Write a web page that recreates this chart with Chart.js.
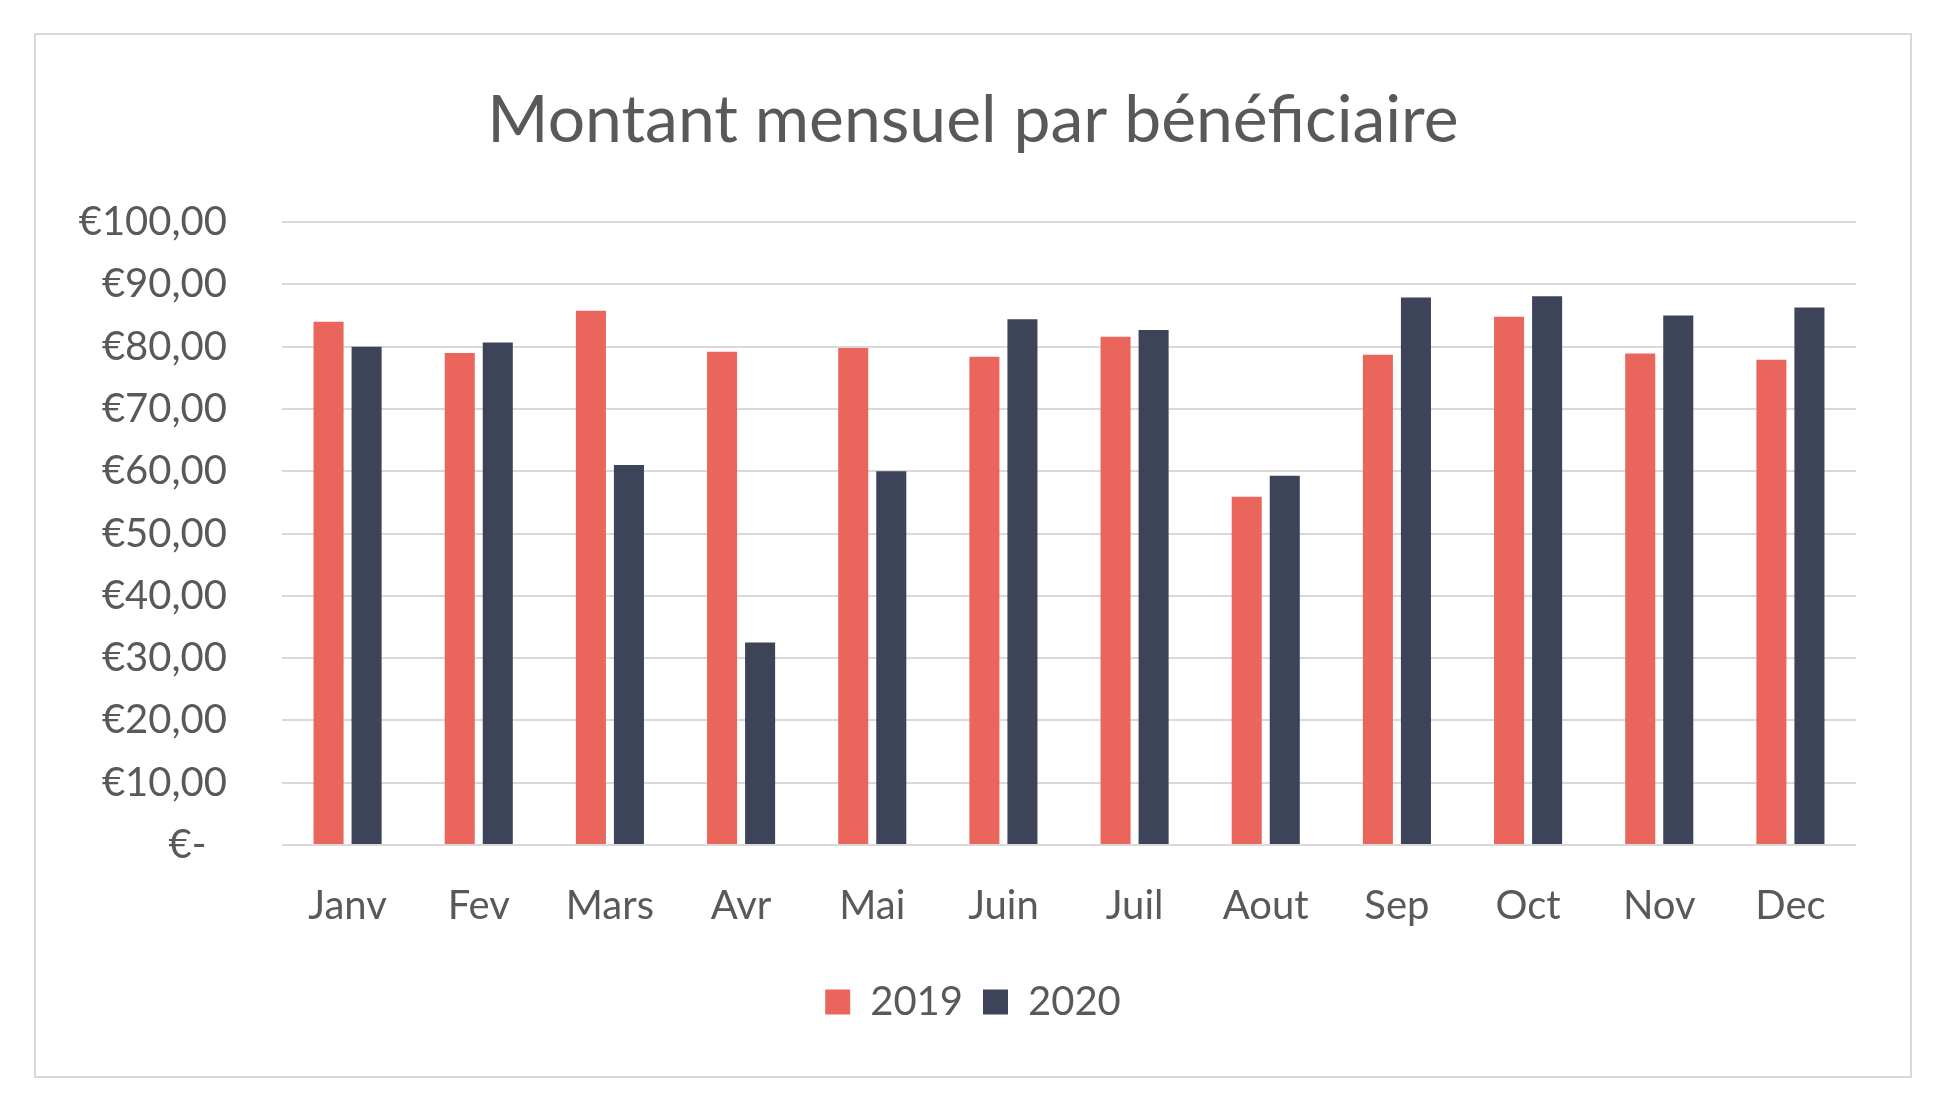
<html>
    <head>
        <title>Montant mensuel par bénéficiaire</title>
        <style>
            body { margin: 0; background: #ffffff; }
            .frame {
                position: absolute;
                left: 34px; top: 33px;
                width: 1878px; height: 1045px;
                box-sizing: border-box;
                border: 2px solid #d9d9d9;
            }
        </style>
    </head>
    <body>
        <div class="frame">
            <canvas id="myChart"></canvas>
        </div>
    </body>
    <script src="https://cdn.jsdelivr.net/npm/chart.js@4/dist/chart.umd.min.js"></script>
    <script>
    var months = ['Janv', 'Fev', 'Mars', 'Avr', 'Mai', 'Juin', 'Juil', 'Aout', 'Sep', 'Oct', 'Nov', 'Dec'];
    var values2019 = [84.0, 79.0, 85.8, 79.2, 79.8, 78.4, 81.6, 55.9, 78.7, 84.8, 78.9, 77.9];
    var values2020 = [80.0, 80.7, 61.0, 32.5, 60.0, 84.4, 82.7, 59.3, 87.9, 88.1, 85.0, 86.3];
    var yTickLabels = ['€-  ', '€10,00', '€20,00', '€30,00', '€40,00', '€50,00',
                       '€60,00', '€70,00', '€80,00', '€90,00', '€100,00'];

    var grey = '#595959';
    var font = 'Lato';

    // y labels are wider than the axis box, don't let the scale clip them
    var noLabelClip = {
        id: 'noLabelClip',
        afterLayout: function(chart) { chart.scales.y.left = 0; }
    };

    var ctx = document.getElementById('myChart');
    var barChart = new Chart(ctx, {
        type: 'bar',
        data: {
            labels: months,
            datasets: [{
                label: '2019',
                data: values2019,
                backgroundColor: '#ea665c',
                borderWidth: 0,
                categoryPercentage: 0.58,
                barPercentage: 0.79
            }, {
                label: '2020',
                data: values2020,
                backgroundColor: '#3d4359',
                borderWidth: 0,
                categoryPercentage: 0.58,
                barPercentage: 0.79
            }]
        },
        plugins: [noLabelClip],
        options: {
            responsive: true,
            maintainAspectRatio: false,
            animation: false,
            layout: { padding: { left: 54, right: 54, top: 0, bottom: 44 } },
            plugins: {
                title: {
                    display: true,
                    text: 'Montant mensuel par bénéficiaire',
                    color: grey,
                    font: { family: font, size: 66, weight: 'normal' },
                    padding: { top: 46, bottom: 62 }
                },
                legend: {
                    position: 'bottom',
                    labels: {
                        color: grey,
                        font: { family: font, size: 40 },
                        boxWidth: 25,
                        boxHeight: 25,
                        padding: 20
                    }
                },
                tooltip: { enabled: false }
            },
            scales: {
                x: {
                    grid: { display: false, drawTicks: false },
                    border: { display: false },
                    ticks: {
                        color: grey,
                        font: { family: font, size: 40 },
                        padding: 37,
                        maxRotation: 0,
                        autoSkip: false
                    },
                    afterFit: function(scale) { scale.height -= 5; }
                },
                y: {
                    min: 0,
                    max: 100,
                    grid: { color: '#d9d9d9', lineWidth: 2, drawTicks: false },
                    border: { display: false },
                    ticks: {
                        stepSize: 10,
                        color: grey,
                        font: { family: font, size: 40 },
                        padding: 55,
                        callback: function(value, index) { return yTickLabels[index]; }
                    },
                    afterFit: function(scale) { scale.width = 192; }
                }
            }
        }
    });
    </script>
</html>
